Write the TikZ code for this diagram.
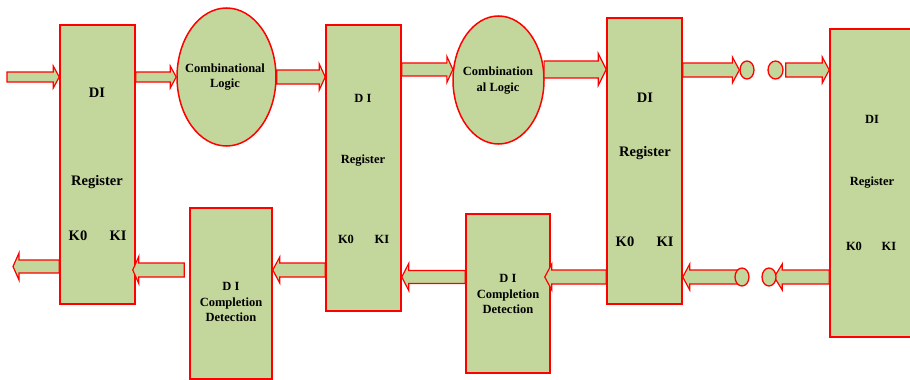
\documentclass[tikz,border=0pt]{standalone}
\usepackage{fontspec}
\setmainfont{Liberation Serif}
\usetikzlibrary{calc,shapes.geometric}

\definecolor{boxgreen}{HTML}{C3D69B}
\definecolor{boxred}{HTML}{FF0000}

% Horizontal block arrow: #1 start, #2 tip, #3 shaft half-width,
% #4 head half-width, #5 head length (all in pt)
\newcommand\blockarr[5]{%
  \draw[barrow] let \p1=(#1), \p2=(#2), \n1={ifthenelse(\x2>\x1,1,-1)} in
    (\x1,\y1+#3pt) -- (\x2-\n1*#5pt,\y1+#3pt) -- (\x2-\n1*#5pt,\y1+#4pt)
    -- (\x2,\y1) -- (\x2-\n1*#5pt,\y1-#4pt) -- (\x2-\n1*#5pt,\y1-#3pt)
    -- (\x1,\y1-#3pt) -- cycle;}

\tikzset{
  blk/.style={draw=boxred, fill=boxgreen, line width=1.5pt, rectangle, inner sep=0pt},
  logic/.style={draw=boxred, fill=boxgreen, line width=1.5pt, ellipse, inner sep=0pt},
  dot/.style={draw=boxred, fill=boxgreen, line width=1.3pt, ellipse, inner sep=0pt},
  barrow/.style={draw=boxred, fill=boxgreen, line width=1.2pt, line join=miter},
  tbig/.style={font=\fontsize{14.5}{16}\selectfont\bfseries, inner sep=0pt},
  tsmall/.style={font=\fontsize{12.5}{15}\selectfont\bfseries, inner sep=0pt},
  tlines/.style={font=\fontsize{12.5}{15.5}\selectfont\bfseries, align=center, inner sep=0pt},
}

\begin{document}
\begin{tikzpicture}[x=1pt, y=-1pt]
\useasboundingbox (0,0) rectangle (910,380);
\clip (0,0) rectangle (910,380);

% registers
\node[blk, minimum width=75pt, minimum height=279pt] (r1) at (97.5,164.5) {};
\node[blk, minimum width=75pt, minimum height=286pt] (r2) at (363.5,168) {};
\node[blk, minimum width=75pt, minimum height=286pt] (r3) at (644.5,161) {};
\node[blk, minimum width=86pt, minimum height=308pt] (r4) at (873,183) {};

% combinational logic
\node[logic, minimum width=99pt, minimum height=138pt] (cl1) at (226.5,77) {};
\node[logic, minimum width=91pt, minimum height=128pt] (cl2) at (498.5,80) {};

% completion detection
\node[blk, minimum width=82pt, minimum height=171pt] (cd1) at (231,293.5) {};
\node[blk, minimum width=84pt, minimum height=159pt] (cd2) at (508,293.5) {};

% register labels
\node[tbig] (r1di) at (97,93) {DI};
\node[tbig] (r1reg) at (97,182) {Register};
\node[tbig] (r1k0) at (78,236) {K0};
\node[tbig] (r1ki) at (118,236) {KI};

\node[tsmall] (r2di) at (363,98) {D I};
\node[tsmall] (r2reg) at (363,161) {Register};
\node[tsmall] (r2k0) at (346,239) {K0};
\node[tsmall] (r2ki) at (382,239) {KI};

\node[tbig] (r3di) at (645,98) {DI};
\node[tbig] (r3reg) at (645,153) {Register};
\node[tbig] (r3k0) at (625,242) {K0};
\node[tbig] (r3ki) at (665,242) {KI};

\node[tsmall] (r4di) at (872,119) {DI};
\node[tsmall] (r4reg) at (872,183) {Register};
\node[tsmall] (r4k0) at (854,246) {K0};
\node[tsmall] (r4ki) at (889,246) {KI};

% logic and detection labels
\node[tlines] (cl1t) at (225,77) {Combinational\\Logic};
\node[tlines] (cl2t) at (498,80.5) {Combination\\al Logic};
\node[tlines] (cd1t) at (231,302) {D I\\Completion\\Detection};
\node[tlines] (cd2t) at (508,294) {D I\\Completion\\Detection};

% reference points for free ends and rows
\coordinate (in) at (7,77);
\coordinate (out) at (13,266.5);
\coordinate (lowrow) at (0,270);
\coordinate (midrow) at (0,277);

% forward data path
\blockarr{in}{r1.west |- in}{5}{11}{6}
\blockarr{r1.east |- cl1.west}{cl1.west}{5}{11}{6}
\blockarr{cl1.east}{r2.west |- cl1.east}{7}{13}{6}
\blockarr{r2.east |- cl2.167}{cl2.167}{6.5}{13}{6}
\blockarr{cl2.13}{r3.west |- cl2.13}{8.5}{16}{8}

\node[dot, minimum width=14pt, minimum height=18pt] (d1) at (747,70) {};
\node[dot, minimum width=15pt, minimum height=18pt] (d2) at (775.5,70) {};
\blockarr{r3.east |- d1.west}{d1.west}{7}{13}{7}
\blockarr{$(d2.east)+(2,0)$}{r4.west |- d2.east}{7}{13}{7}

% acknowledge path
\blockarr{r4.west |- midrow}{$(midrow -| r4.west)+(-55,0)$}{7}{13}{8}
\blockarr{$(midrow)+(742,0)$}{r3.east |- midrow}{7}{13}{7}
\node[dot, minimum width=14pt, minimum height=18pt] (d3) at (769,277) {};
\node[dot, minimum width=14pt, minimum height=18pt] (d4) at (742,277) {};

\blockarr{r3.west |- midrow}{$(cd2.east |- midrow)+(-6,0)$}{7}{13}{7}
\blockarr{cd2.west |- midrow}{r2.east |- midrow}{6.5}{13.5}{7}
\blockarr{r2.west |- lowrow}{cd1.east |- lowrow}{7}{13}{7}
\blockarr{$(cd1.west |- lowrow)+(-5,0)$}{$(r1.east |- lowrow)+(-3,0)$}{7}{13.5}{6}
\blockarr{r1.west |- out}{out}{6.5}{13.5}{6}
\end{tikzpicture}
\end{document}
